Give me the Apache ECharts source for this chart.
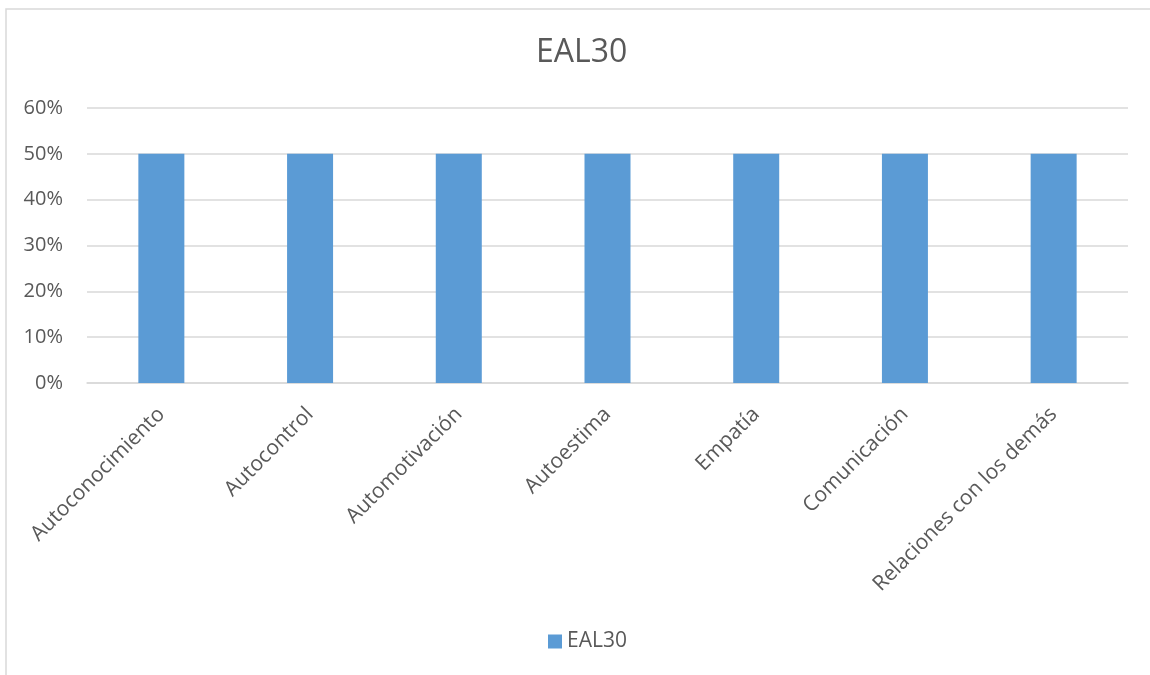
<!DOCTYPE html>
<html><head><meta charset="utf-8">
<script src="https://cdn.jsdelivr.net/npm/echarts@6/dist/echarts.min.js"></script>
<style>html,body{margin:0;padding:0;background:#fff}#c{width:1150px;height:675px}</style>
</head><body><div id="c"></div>
<script>
const categories = ["Autoconocimiento","Autocontrol","Automotivación","Autoestima","Empatía","Comunicación","Relaciones con los demás"];
const seriesName = "EAL30";
const values = [0.5,0.5,0.5,0.5,0.5,0.5,0.5];
const yTicks = [0,0.1,0.2,0.3,0.4,0.5,0.6];

const chart = echarts.init(document.getElementById('c'));
const font = '"Open Sans", sans-serif';
chart.setOption({
  backgroundColor:'#fff',
  animation:false,
  title:{text:'EAL30',left:531,top:32,textStyle:{fontFamily:font,fontSize:32,fontWeight:'normal',color:'#595959'}},
  graphic:[{type:'rect',shape:{x:6,y:9,width:1200,height:700},style:{fill:'none',stroke:'#d9d9d9',lineWidth:1.5},silent:true}],
  legend:{bottom:18,left:543,itemWidth:14,itemHeight:14,itemGap:6,icon:'rect',
    textStyle:{fontFamily:font,fontSize:21,color:'#595959'},data:[seriesName]},
  grid:{left:87,right:22,top:108,bottom:292,containLabel:false},
  xAxis:{type:'category',data:categories,
    axisLine:{lineStyle:{color:'#d9d9d9',width:1.5}},axisTick:{show:false},
    axisLabel:{rotate:45,interval:0,margin:28,fontFamily:font,fontSize:21,color:'#595959'}},
  yAxis:{type:'value',min:yTicks[0],max:yTicks[yTicks.length-1],interval:0.1,
    axisLine:{show:false},axisTick:{show:false},
    splitLine:{lineStyle:{color:'#d9d9d9',width:1.5}},
    axisLabel:{margin:24,fontFamily:font,fontSize:20,color:'#595959',formatter:v=>Math.round(v*100)+'%'}},
  series:[{name:seriesName,type:'bar',data:values,barWidth:46,itemStyle:{color:'#5b9bd5'}}]
});
</script></body></html>
